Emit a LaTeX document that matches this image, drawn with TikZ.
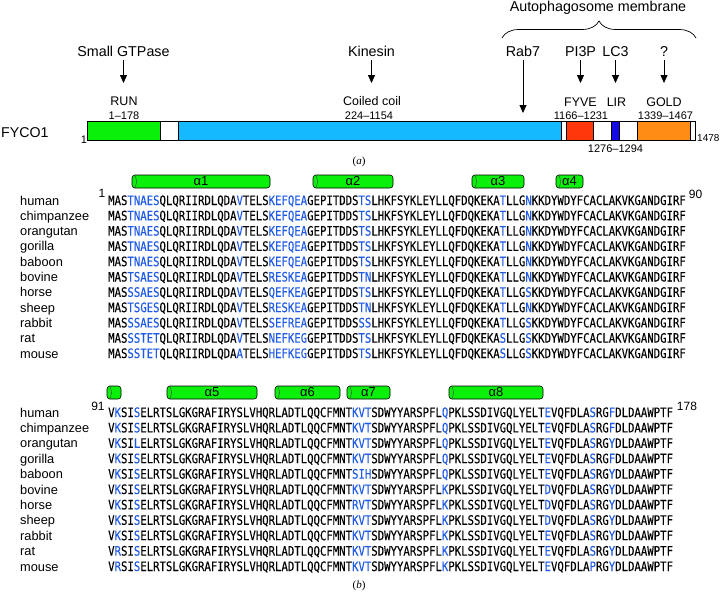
\documentclass[tikz,border=0pt]{standalone}
\usepackage{fontspec}
\setmainfont{Liberation Sans}
\newfontfamily\seqfont[FakeStretch=0.82,FakeBold=0.12]{DejaVu Sans Mono}
\newfontfamily\capserif{Liberation Serif}
\usepackage{xcolor}
\usepackage{tikz}
\usetikzlibrary{
  arrows.meta,
  positioning,
  calc,
  decorations.pathreplacing
}
\definecolor{rungreen}{RGB}{10,240,10}
\definecolor{coilblue}{RGB}{20,185,255}
\definecolor{fyvered}{RGB}{255,55,10}
\definecolor{lirblue}{RGB}{20,10,230}
\definecolor{goldorange}{RGB}{255,140,20}
\definecolor{seqblue}{RGB}{30,90,230}
% variable alignment stretches
\newcommand{\vres}[1]{\textcolor{seqblue}{#1}}
\newcommand{\seqA}[9]{MAS\vres{#1E#2}QLQRIIRDLQDA\vres{#3}TELS\vres{#4E#5E#6}GEPITDDS\vres{#7}LHKFSYKLEYLLQFDQKEKA\vres{#8}LLG\vres{#9}KKDYWDYFCACLAKVKGANDGIRF}
\newcommand{\seqB}[7]{V\vres{#1}SI\vres{#2}ELRTSLGKGRAFIRYSLVHQRLADTLQQCFMNT\vres{#3}SDWYYARSPFL\vres{#4}PKLSSDIVGQLYELT\vres{#5}VQFDLA\vres{#6}RG\vres{#7}DLDAAWPTF}
% residue -> x on the domain bar
\newcommand{\rx}[1]{87+#1*0.41137}
\tikzset{
  toplabel/.style={font=\fontsize{14.3}{16}\selectfont,inner sep=0pt,anchor=base},
  domlabel/.style={font=\fontsize{12.5}{14}\selectfont,inner sep=0pt,anchor=base},
  numlabel/.style={font=\fontsize{11}{13}\selectfont,inner sep=0pt,anchor=base},
  species/.style={font=\fontsize{12.8}{14}\selectfont,inner sep=0pt,anchor=base west},
  seqrow/.style={font={\fontsize{13}{14}\seqfont},inner sep=0pt,anchor=base west},
  posnum/.style={font=\fontsize{12}{14}\selectfont,inner sep=0pt,anchor=base},
  panellabel/.style={font={\fontsize{11}{13}\capserif},inner sep=0pt,anchor=base},
  domainbox/.style={draw=black,line width=0.7pt},
  bindarrow/.style={-{Triangle[width=7pt,length=8pt]},line width=0.8pt},
  helix/.style={
    draw=black,
    line width=0.6pt,
    fill=rungreen,
    rounded corners=3pt,
    minimum height=13pt,
    inner sep=0pt,
    font=\fontsize{13}{14}\selectfont
  },
  helixcap/.style={draw=black!70,line width=0.5pt},
}

\begin{document}
\begin{tikzpicture}[x=1pt,y=-1pt]
  \useasboundingbox (0,0) rectangle (721,592);

  % Panel (a): domain bar
  \node[toplabel] (auto) at (598,11) {Autophagosome membrane};
  \draw[line width=0.7pt,decorate,decoration={brace,amplitude=17pt}] (502,38) -- (696,38);

  \coordinate (arrowtop) at (0,60);
  \coordinate (arrowtip) at (0,83);
  \coordinate (rabtip) at (0,113);
  \node[toplabel] (gtp) at (123.5,56) {Small GTPase};
  \node[toplabel] (kin) at (371.5,56) {Kinesin};
  \node[toplabel] (rab) at (523,56) {Rab7};
  \node[toplabel] (pip) at (580.5,56) {PI3P};
  \node[toplabel] (lc3) at (615.5,56) {LC3};
  \node[toplabel] (unk) at (664,56) {?};
  \draw[bindarrow] (gtp |- arrowtop) -- (gtp |- arrowtip);
  \draw[bindarrow] (kin |- arrowtop) -- (kin |- arrowtip);
  \draw[bindarrow] (rab |- arrowtop) -- (rab |- rabtip);
  \draw[bindarrow] (pip |- arrowtop) -- (pip |- arrowtip);
  \draw[bindarrow] (lc3 |- arrowtop) -- (lc3 |- arrowtip);
  \draw[bindarrow] (unk |- arrowtop) -- (unk |- arrowtip);

  \node[domlabel] (run) at (124,105) {RUN};
  \node[numlabel] (runnum) at (124,119) {1--178};
  \node[domlabel] (coil) at (372,105) {Coiled coil};
  \node[numlabel] (coilnum) at (369,119) {224--1154};
  \node[domlabel] (fyve) at (580.5,106) {FYVE};
  \node[numlabel] (fyvenum) at (581,119) {1166--1231};
  \node[domlabel] (lir) at (616.5,106) {LIR};
  \node[numlabel] (lirnum) at (615.5,152) {1276--1294};
  \node[domlabel] (gold) at (664,106) {GOLD};
  \node[numlabel] (goldnum) at (665.5,119) {1339--1467};

  \draw[domainbox,fill=white] (87,121) rectangle (695,140);
  \draw[domainbox,fill=rungreen] ({\rx{0}},121) rectangle ({\rx{178}},140);
  \draw[domainbox,fill=coilblue] ({\rx{223}},121) rectangle ({\rx{1154}},140);
  \draw[domainbox,fill=fyvered] ({\rx{1165}},121) rectangle ({\rx{1231}},140);
  \draw[domainbox,fill=lirblue] ({\rx{1275}},121) rectangle ({\rx{1294}},140);
  \draw[domainbox,fill=goldorange] ({\rx{1338}},121) rectangle ({\rx{1467}},140);

  \node[font=\fontsize{14.2}{16}\selectfont,inner sep=0pt,anchor=base west] (fyco) at (1,137) {FYCO1};
  \node[numlabel] (first) at (84,143) {1};
  \node[font=\fontsize{10}{12}\selectfont,inner sep=0pt,anchor=base west] (last) at (697,141) {1478};
  \node[panellabel] (capa) at (359,164) {(\textit{a})};

  % Panel (b): helices
  \foreach \lab/\xa/\xb [count=\k] in {α1/132/270, α2/313/393, α3/472/524, α4/556/583} {
    \node[helix,minimum width={(\xb-\xa)*1pt}] (hA\k) at ({(\xa+\xb)/2},181.5) {\lab};
    \draw[helixcap] ([xshift=3pt]hA\k.north west) .. controls ([xshift=5.5pt]hA\k.west) .. ([xshift=3pt]hA\k.south west);
  }
  \foreach \lab/\xa/\xb [count=\k] in {{}/107/121, α5/167/257, α6/275/340, α7/347/390, α8/449/543} {
    \node[helix,minimum width={(\xb-\xa)*1pt}] (hB\k) at ({(\xa+\xb)/2},392.5) {\lab};
    \draw[helixcap] ([xshift=3pt]hB\k.north west) .. controls ([xshift=5.5pt]hB\k.west) .. ([xshift=3pt]hB\k.south west);
  }

  % species names
  \foreach \sp [count=\i from 0] in {human,chimpanzee,orangutan,gorilla,baboon,bovine,horse,sheep,rabbit,rat,mouse} {
    \node[species] (spA\i) at (20,{205+15.3*\i}) {\sp};
    \node[species] (spB\i) at (20,{417+15.4*\i}) {\sp};
  }

  % residues 1-90
  \node[posnum] (numA1) at (102,197) {1};
  \node[posnum] (numA90) at (695.5,198) {90};
  \node[seqrow] (seqA0) at (108,205) {\seqA{TNA}{S}{V}{K}{FQ}{A}{TS}{T}{N}};
  \node[seqrow] (seqA1) at (108,220.3) {\seqA{TNA}{S}{V}{K}{FQ}{A}{TS}{T}{N}};
  \node[seqrow] (seqA2) at (108,235.6) {\seqA{TNA}{S}{V}{K}{FQ}{A}{TS}{T}{N}};
  \node[seqrow] (seqA3) at (108,250.9) {\seqA{TNA}{S}{V}{K}{FQ}{A}{TS}{T}{N}};
  \node[seqrow] (seqA4) at (108,266.2) {\seqA{TNA}{S}{V}{K}{FQ}{A}{TS}{T}{N}};
  \node[seqrow] (seqA5) at (108,281.5) {\seqA{TSA}{S}{V}{R}{SK}{A}{TN}{T}{N}};
  \node[seqrow] (seqA6) at (108,296.8) {\seqA{SSA}{S}{V}{Q}{FK}{A}{TS}{T}{S}};
  \node[seqrow] (seqA7) at (108,312.1) {\seqA{TSG}{S}{V}{R}{SK}{A}{TN}{T}{N}};
  \node[seqrow] (seqA8) at (108,327.4) {\seqA{SSA}{S}{V}{S}{FR}{A}{SS}{T}{S}};
  \node[seqrow] (seqA9) at (108,342.7) {\seqA{SST}{T}{V}{N}{FK}{G}{TS}{S}{S}};
  \node[seqrow] (seqA10) at (108,358) {\seqA{SST}{T}{A}{H}{FK}{G}{TS}{S}{S}};

  % residues 91-178
  \node[posnum] (numB91) at (98,410) {91};
  \node[posnum] (numB178) at (687,410) {178};
  \node[seqrow] (seqB0) at (108,417) {\seqB{K}{S}{KVT}{Q}{E}{S}{F}};
  \node[seqrow] (seqB1) at (108,432.4) {\seqB{K}{S}{KVT}{Q}{E}{S}{F}};
  \node[seqrow] (seqB2) at (108,447.8) {\seqB{K}{L}{KVT}{Q}{E}{S}{Y}};
  \node[seqrow] (seqB3) at (108,463.2) {\seqB{K}{S}{KVT}{Q}{E}{S}{F}};
  \node[seqrow] (seqB4) at (108,478.6) {\seqB{K}{S}{SIH}{Q}{E}{S}{Y}};
  \node[seqrow] (seqB5) at (108,494) {\seqB{K}{S}{KVT}{K}{D}{S}{Y}};
  \node[seqrow] (seqB6) at (108,509.4) {\seqB{K}{S}{RVT}{K}{D}{S}{Y}};
  \node[seqrow] (seqB7) at (108,524.8) {\seqB{K}{S}{KVT}{K}{D}{S}{Y}};
  \node[seqrow] (seqB8) at (108,540.2) {\seqB{K}{S}{KVT}{K}{E}{S}{Y}};
  \node[seqrow] (seqB9) at (108,555.6) {\seqB{R}{S}{KVT}{K}{E}{S}{Y}};
  \node[seqrow] (seqB10) at (108,571) {\seqB{R}{S}{KVT}{K}{E}{P}{Y}};

  \node[panellabel] (capb) at (359,588) {(\textit{b})};
\end{tikzpicture}
\end{document}
